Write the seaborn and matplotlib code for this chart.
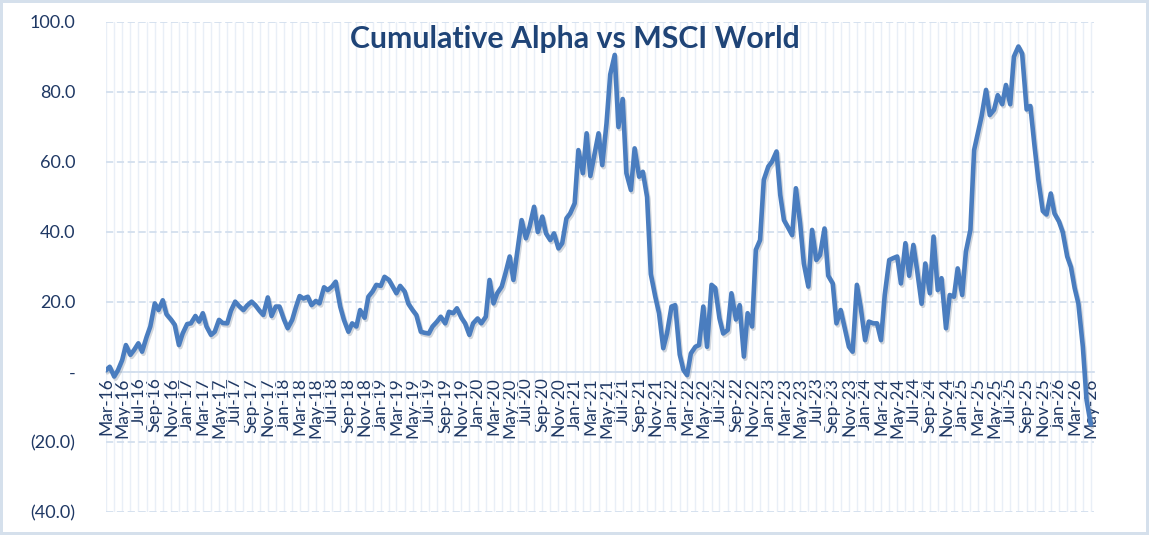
import matplotlib
matplotlib.use("Agg")
import matplotlib.pyplot as plt
import matplotlib.dates as mdates
from matplotlib.ticker import FuncFormatter
import matplotlib.patheffects as pe
import seaborn as sns
import pandas as pd

# semi-monthly readings of cumulative alpha vs MSCI World (1st and 16th of each month)
start_date = "2016-03-01"
alpha = [
    0.5, 1.5, -1.3, 0.5, 3.4, 7.7, 4.9, 6.3, 8.2, 5.8,
    10.0, 13.0, 19.6, 17.7, 20.5, 16.5, 15.0, 13.5, 7.7, 11.0,
    13.7, 13.9, 16.0, 14.4, 16.8, 13.0, 10.6, 11.5, 14.9, 14.0,
    13.9, 17.5, 20.1, 18.9, 17.7, 19.0, 20.1, 19.1, 17.5, 16.3,
    21.3, 16.0, 18.7, 18.7, 15.0, 12.5, 14.9, 18.5, 21.7, 21.0,
    21.5, 19.1, 20.3, 19.6, 24.2, 23.4, 24.4, 25.8, 18.7, 14.9,
    11.5, 13.9, 13.0, 17.7, 15.5, 21.5, 23.0, 24.9, 24.6, 27.2,
    26.3, 24.4, 22.5, 24.6, 23.0, 19.5, 17.7, 16.3, 11.5, 11.2,
    11.0, 13.0, 14.4, 15.8, 13.9, 17.2, 16.8, 18.2, 15.5, 13.9,
    10.6, 13.9, 15.3, 13.9, 15.8, 26.3, 19.6, 22.5, 24.4, 28.2,
    33.0, 26.3, 35.8, 43.4, 38.2, 41.5, 47.2, 40.0, 44.4, 39.6,
    37.7, 39.6, 35.3, 36.8, 43.9, 45.3, 48.2, 63.4, 56.8, 68.2,
    56.0, 61.5, 68.2, 59.1, 71.0, 85.0, 90.6, 70.0, 78.0, 56.8,
    52.0, 63.9, 55.8, 57.2, 50.0, 28.0, 21.5, 16.8, 6.8, 11.0,
    18.7, 19.1, 5.0, 0.6, -0.9, 5.3, 7.2, 7.7, 18.7, 7.2,
    24.9, 24.0, 15.3, 11.0, 12.0, 22.5, 15.0, 19.1, 4.4, 16.8,
    13.0, 34.9, 37.7, 54.9, 58.7, 60.1, 63.0, 50.6, 43.4, 41.5,
    39.1, 52.5, 42.5, 31.0, 24.4, 40.6, 32.0, 33.4, 41.0, 27.5,
    25.3, 13.9, 17.7, 13.0, 7.2, 5.8, 24.9, 18.7, 9.1, 14.4,
    13.9, 13.9, 9.1, 22.0, 32.0, 32.5, 33.0, 25.3, 36.8, 27.5,
    36.3, 29.1, 19.5, 31.0, 22.5, 38.7, 23.4, 26.8, 12.5, 22.0,
    21.5, 29.6, 22.0, 34.4, 40.6, 63.4, 68.2, 73.0, 80.6, 73.4,
    74.9, 79.1, 76.5, 82.0, 76.5, 90.1, 93.0, 91.0, 75.0, 76.0,
    64.4, 55.0, 46.0, 45.0, 51.0, 45.3, 43.0, 40.0, 33.0, 30.0,
    24.0, 19.6, 7.2, -8.0, -15.0,
]
dates = pd.date_range(start_date, periods=len(alpha), freq="SMS")
df = pd.DataFrame({"date": dates, "alpha": alpha})

title_text = "Cumulative Alpha vs MSCI World"
y_ticks = [-40, -20, 0, 20, 40, 60, 80, 100]

navy = "#1f3864"
line_blue = "#4a7dbf"

sns.set_style("white")
plt.rcParams["font.family"] = ["Lato", "DejaVu Sans"]

fig = plt.figure(figsize=(11.49, 5.35), dpi=100, edgecolor="#d5e0ec", linewidth=3)
ax = fig.add_axes([106 / 1149, 1 - 512 / 535, 988 / 1149, 490 / 535])

sns.lineplot(data=df, x="date", y="alpha", ax=ax, color=line_blue, linewidth=3.3,
             solid_capstyle="round", solid_joinstyle="round", zorder=5,
             path_effects=[pe.SimpleLineShadow(offset=(1, -1.5), shadow_color="#7f8c9c", alpha=0.35),
                           pe.Normal()])

ax.set_ylim(-40, 100)
ax.set_xlim(pd.Timestamp("2016-03-01"), pd.Timestamp("2026-05-13"))
ax.set_yticks(y_ticks)


def fmt_y(v, pos):
    if abs(v) < 1e-9:
        return "-"
    if v < 0:
        return f"({abs(v):.1f})"
    return f"{v:.1f}"


ax.yaxis.set_major_formatter(FuncFormatter(fmt_y))
ax.xaxis.set_major_locator(mdates.MonthLocator(bymonth=[1, 3, 5, 7, 9, 11]))
ax.xaxis.set_minor_locator(mdates.MonthLocator())
ax.xaxis.set_major_formatter(mdates.DateFormatter("%b-%y"))

# gridlines
ax.grid(axis="y", color="#d3dfee", linestyle=(0, (4, 2)), linewidth=1.3, zorder=1)
ax.grid(axis="x", which="both", color="#e9eff7", linestyle="-", linewidth=1.0, zorder=0)
ax.set_axisbelow(True)

for side in ["top", "right", "left"]:
    ax.spines[side].set_visible(False)
ax.spines["bottom"].set_position(("data", 0))
ax.spines["bottom"].set_color("#d3dfee")
ax.spines["bottom"].set_linewidth(1.3)

ax.tick_params(axis="y", length=0, pad=22, labelsize=13, labelcolor=navy)
ax.tick_params(axis="x", which="both", length=0, pad=4, labelsize=12.5, labelcolor=navy)
plt.setp(ax.get_xticklabels(), rotation=90)
ax.set_xlabel("")
ax.set_ylabel("")

fig.text(0.5, 1 - 39 / 535, title_text, ha="center", va="center", fontsize=21.8,
         fontweight="bold", color="#1f4477")

fig.savefig("out.png", dpi=100)
